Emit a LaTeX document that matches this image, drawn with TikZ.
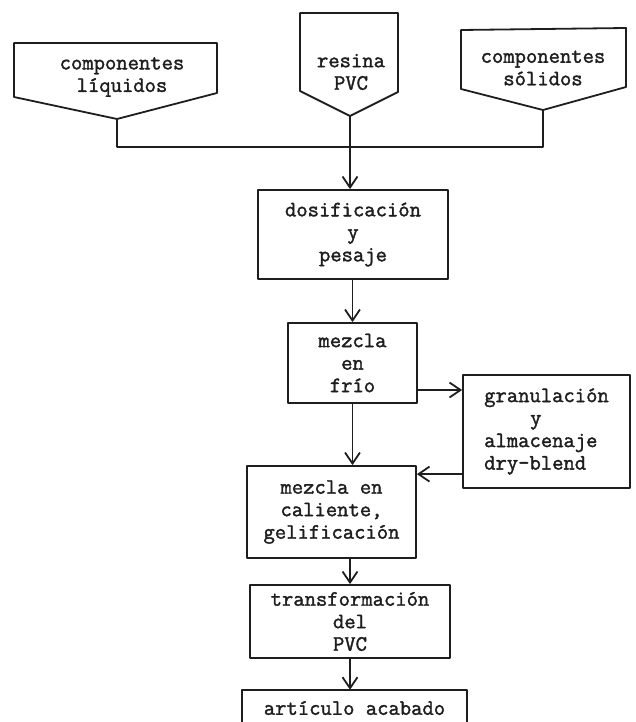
\documentclass[tikz,border=0pt]{standalone}
\usepackage{fontspec}
\usetikzlibrary{arrows.meta,calc}
\newfontfamily\tw{Latin Modern Mono}[FakeBold=1.7]
\definecolor{ink}{HTML}{1E1E1E}
\tikzset{
  x=1pt, y=-1pt,
  ln/.style={draw=ink, line width=1.8pt, line join=round},
  lbl/.style={font=\tw\fontsize{22}{22.5}\selectfont, text=ink, align=center, inner sep=0pt},
  procbox/.style={lbl, ln, rectangle},
  arr/.style={ln, -{Straight Barb[length=11pt,width=15pt,line width=1.8pt]}},
}
\begin{document}
\begin{tikzpicture}
\useasboundingbox (0,0) rectangle (635,722);

% raw-material inputs (pentagon "offpage" symbols)
\draw[ln] (14,43) -- (217,43) -- (217,93) -- (117,119) -- (14,97) -- cycle;
\coordinate (liqTip) at (117,119);
\node[lbl] (liq) at (122,77) {componentes\\líquidos};

\draw[ln] (300,13) -- (398,13) -- (398,92) -- (350,116) -- (300,91) -- cycle;
\coordinate (resTip) at (350,116);
\node[lbl] (res) at (351,72) {resina\\PVC};

\draw[ln] (461,30) -- (626,28) -- (626,87) -- (543,110) -- (461,89) -- cycle;
\coordinate (solTip) at (543,110);
\node[lbl] (sol) at (543,68) {componentes\\sólidos};

% process steps
\node[procbox, minimum width=190pt, minimum height=89pt] (dos) at (353,234.5)
  {dosificación\\y\\pesaje};
\node[procbox, minimum width=129pt, minimum height=80pt] (fri) at (352.5,363)
  {mezcla\\en\\frío};
\node[procbox, minimum width=167pt, minimum height=113pt, align=left] (gra) at (546.5,431.5)
  {granulación\\\rule{46pt}{0pt}y\\almacenaje\\dry-blend};
\node[procbox, minimum width=169pt, minimum height=92pt] (cal) at (331.5,512)
  {mezcla en\\caliente,\\gelificación};
\node[procbox, minimum width=200pt, minimum height=73pt] (tra) at (350,621.5)
  {transformación\\del\\PVC};
\node[lbl, minimum width=225pt, minimum height=36pt] (art) at (354.5,708)
  {artículo acabado};
\draw[ln] (art.south west) |- (art.north east) -- (art.south east);

% collecting line from the three inputs
\coordinate (busL) at (117,147);
\coordinate (busR) at (543,147);
\draw[ln] (liqTip) -- (busL) -- (busR) -- (solTip);
\draw[arr] (resTip) -- (resTip |- dos.north);

% flow between the steps
\draw[arr] (fri.north |- dos.south) -- (fri.north);
\draw[arr] (fri.south) -- (fri.south |- cal.north);
\draw[arr] ([yshift=-27pt]fri.east) -- ([yshift=-27pt]fri.east -| gra.west);
\draw[arr] ([yshift=-9pt]cal.north east -| gra.west) -- ([yshift=-9pt]cal.north east);
\draw[arr] (tra.north |- cal.south) -- (tra.north);
\draw[arr] (tra.south) -- (tra.south |- art.north);
\end{tikzpicture}
\end{document}
